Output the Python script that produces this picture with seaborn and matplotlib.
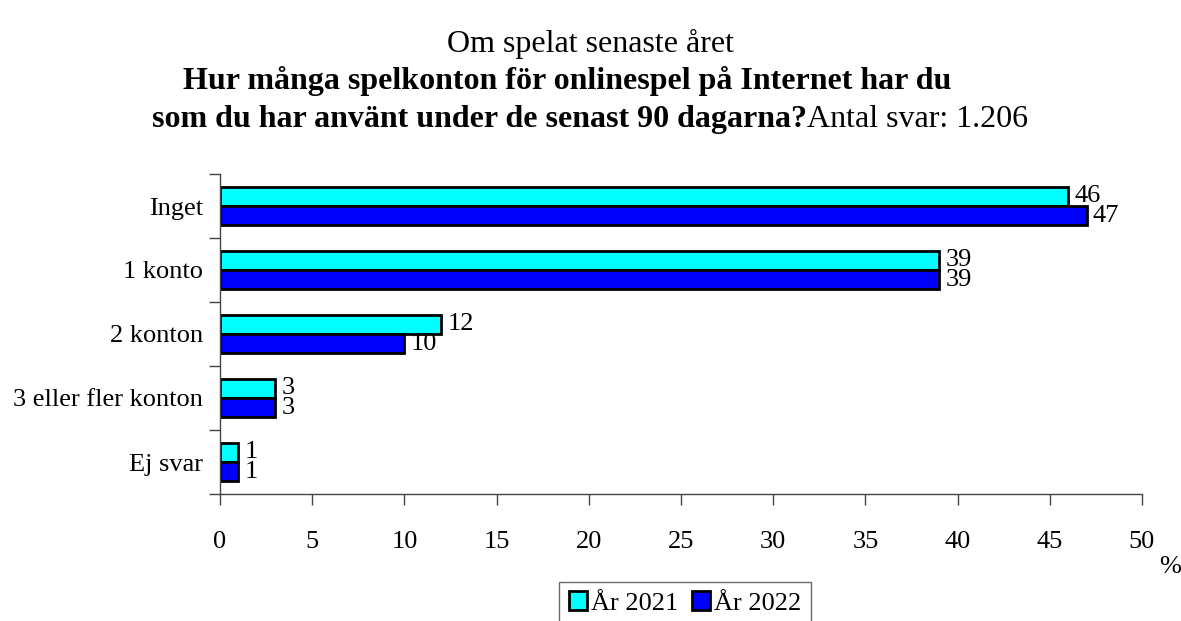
import pandas as pd
import matplotlib
matplotlib.use("Agg")
import matplotlib.pyplot as plt
import seaborn as sns

# data
categories = ["Inget", "1 konto", "2 konton", "3 eller fler konton", "Ej svar"]
years = ["År 2021", "År 2022"]
values_2021 = [46, 39, 12, 3, 1]
values_2022 = [47, 39, 10, 3, 1]
x_ticks = [0, 5, 10, 15, 20, 25, 30, 35, 40, 45, 50]
colors = ["#00FFFF", "#0000FF"]

df = pd.DataFrame({
    "kategori": categories * 2,
    "ar": [years[0]] * len(categories) + [years[1]] * len(categories),
    "procent": values_2021 + values_2022,
})

sns.set_style("white")
plt.rcParams["font.family"] = ["Liberation Serif", "DejaVu Serif"]
plt.rcParams["text.color"] = "black"
plt.rcParams["xtick.labelcolor"] = "black"
plt.rcParams["ytick.labelcolor"] = "black"

fig = plt.figure(figsize=(11.81, 6.21), dpi=100)
ax = fig.add_axes([220 / 1181, 1 - 494 / 621, 922 / 1181, 320 / 621])

sns.barplot(data=df, y="kategori", x="procent", hue="ar", order=categories,
            hue_order=years, palette=colors, orient="h", width=0.6,
            edgecolor="black", linewidth=2, saturation=1, ax=ax)

# value labels (top bar nudged up, lower bar nudged down, as in the reference)
for k, cont in enumerate(ax.containers):
    dy = 0.5 if k == 0 else -0.5
    for bar in cont:
        w = bar.get_width()
        ax.annotate(f"{w:g}", (w, bar.get_y() + bar.get_height() / 2),
                    xytext=(4.5, dy), textcoords="offset points",
                    ha="left", va="center", fontsize=19, color="black")

ax.set_xlim(0, 50)
ax.set_ylim(len(categories) - 0.5, -0.5)
ax.set_xticks(x_ticks)
ax.set_xticklabels([str(t) for t in x_ticks], fontsize=19)
ax.tick_params(axis="x", direction="out", length=8, width=1, pad=19,
               color="#444444", labelcolor="black", bottom=True)

# category boundaries as major ticks, labels on minor ticks
ax.set_yticks([i - 0.5 for i in range(len(categories) + 1)])
ax.set_yticklabels([])
ax.set_yticks(range(len(categories)), minor=True)
ax.set_yticklabels(categories, minor=True, fontsize=19)
ax.tick_params(axis="y", which="major", direction="out", length=8, width=1,
               color="#444444", left=True)
ax.tick_params(axis="y", which="minor", length=0, pad=12, labelcolor="black")

for s in ["top", "right"]:
    ax.spines[s].set_visible(False)
for s in ["left", "bottom"]:
    ax.spines[s].set_color("#444444")
    ax.spines[s].set_linewidth(1)

ax.set_xlabel("")
ax.set_ylabel("")
ax.grid(False)

fig.text(1170 / 1181, 1 - 567 / 621, "%", ha="center", va="center", fontsize=19)

# legend
handles, labels = ax.get_legend_handles_labels()
ax.legend_.remove()
leg = fig.legend(handles, labels, loc="upper center", bbox_to_anchor=(685 / 1181, 1 - 582 / 621),
                 ncol=2, frameon=True, fontsize=19, handlelength=0.7,
                 handleheight=0.7, handletextpad=0.15, columnspacing=0.5,
                 borderpad=0.35, borderaxespad=0, fancybox=False, edgecolor="#444444",
                 labelcolor="black")
leg.get_frame().set_linewidth(1)

# titles
fig.text(0.5, 1 - 52 / 621, "Om spelat senaste året", ha="center", va="baseline", fontsize=23)
fig.text(183 / 1181, 1 - 89 / 621, "Hur många spelkonton för onlinespel på Internet har du",
         ha="left", va="baseline", fontsize=23, fontweight="bold")
t3 = fig.text(152 / 1181, 1 - 127 / 621, "som du har använt under de senast 90 dagarna?",
              ha="left", va="baseline", fontsize=23, fontweight="bold")
ax.annotate("Antal svar: 1.206", xy=(1, 0), xycoords=t3, ha="left", va="bottom",
            fontsize=23, color="black", annotation_clip=False)

fig.savefig("out.png", dpi=100)
